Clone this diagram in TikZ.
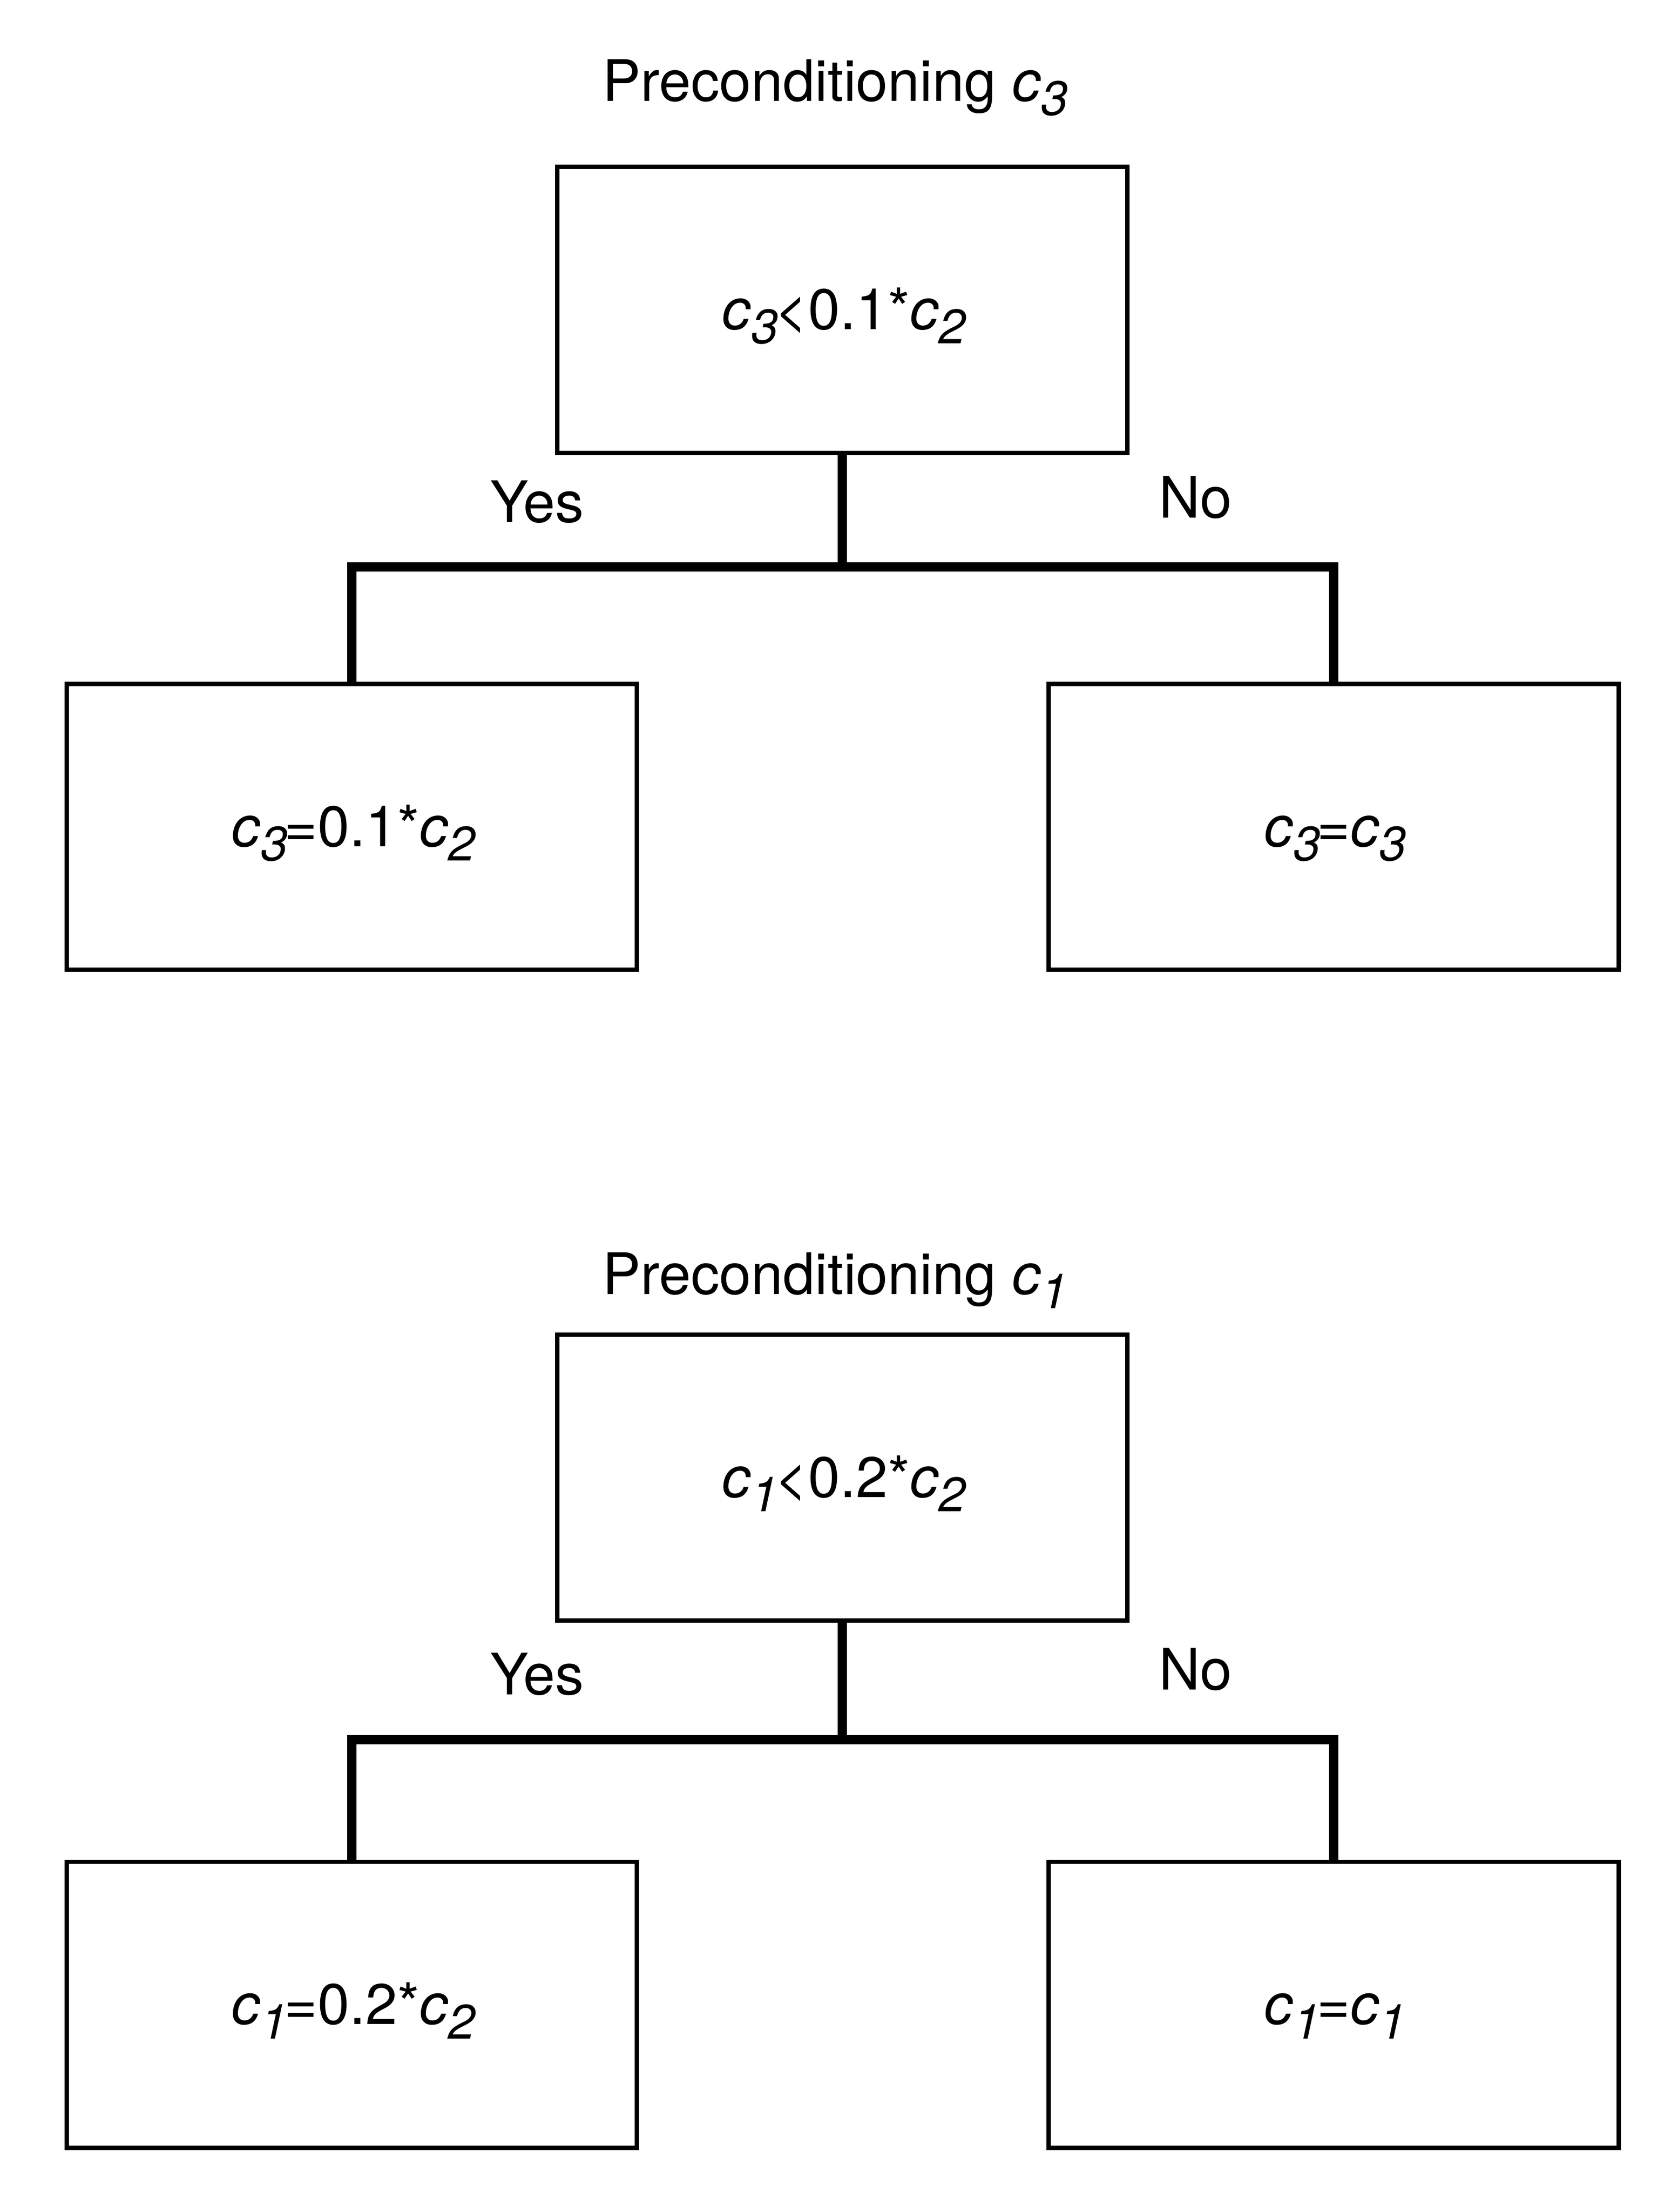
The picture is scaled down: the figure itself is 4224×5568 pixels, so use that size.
\documentclass[tikz,border=0pt]{standalone}
\usepackage{fontspec}
\setmainfont{TeX Gyre Heros}
\newcommand\cvar[1]{\textit{c}\raisebox{-3.6pt}{\fontsize{12.2}{12}\selectfont\itshape #1}\kern-0.8pt}
\begin{document}
\begin{tikzpicture}[x=0.1pt,y=-0.1pt,
  box/.style={draw, line width=1.1pt, minimum width=143.6pt, minimum height=72pt,
    inner sep=0pt, text height=9.8pt, text depth=0pt, font=\fontsize{14.4}{17}\selectfont},
  conn/.style={line width=2.4pt, line join=miter},
  lbl/.style={inner sep=0pt, anchor=base, font=\fontsize{14.4}{17}\selectfont}]
\useasboundingbox (0,0) rectangle (4224,5568);
% upper tree
\node[lbl, anchor=base west] (T1) at (1515,254) {Preconditioning \cvar{3}};
\node[box] (A) at (2121,780) {\cvar{3}<0.1*\cvar{2}};
\node[box] (B) at (886,2081.5) {\cvar{3}=0.1*\cvar{2}};
\node[box] (C) at (3358,2081.5) {\cvar{3}=\cvar{3}};
\node[lbl] (Y1) at (1352,1315) {Yes};
\node[lbl] (N1) at (3010,1303) {No};
\coordinate (J1) at (2121,1427);
\draw[conn] (A.south) -- (J1);
\draw[conn] (B.north) |- (J1) -| (C.north);
% lower tree
\node[lbl, anchor=base west] (T2) at (1515,3258) {Preconditioning \cvar{1}};
\node[box] (D) at (2121,3719.5) {\cvar{1}<0.2*\cvar{2}};
\node[box] (E) at (886,5046.5) {\cvar{1}=0.2*\cvar{2}};
\node[box] (F) at (3358,5046.5) {\cvar{1}=\cvar{1}};
\node[lbl] (Y2) at (1352,4266) {Yes};
\node[lbl] (N2) at (3010,4253) {No};
\coordinate (J2) at (2121,4379);
\draw[conn] (D.south) -- (J2);
\draw[conn] (E.north) |- (J2) -| (F.north);
\end{tikzpicture}
\end{document}
